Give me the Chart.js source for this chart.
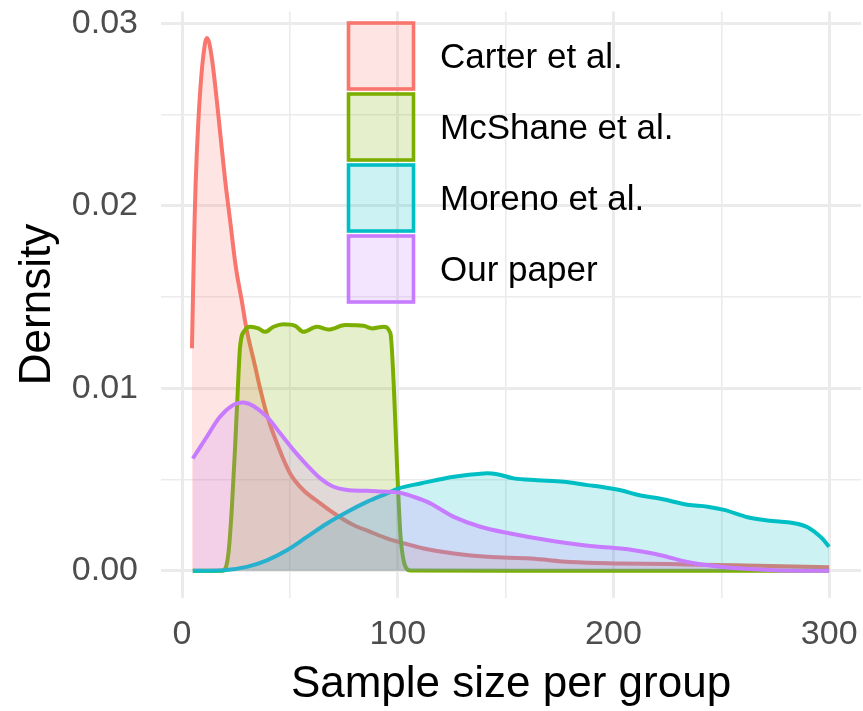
<!DOCTYPE html>
<html lang="en">
<head>
<meta charset="UTF-8">
<title>Sample size densities</title>
<script src="https://cdn.jsdelivr.net/npm/chart.js@4.4.1/dist/chart.umd.min.js"></script>
<style>
  body { margin: 0; background: #fff; }
  #chart { display: block; }
</style>
</head>
<body>
<canvas id="chart" width="863" height="711"></canvas>
<script>
// series names, in the order ggplot draws them
const seriesNames = ['Carter et al.', 'McShane et al.', 'Moreno et al.', 'Our paper'];
const seriesColors = ['#F8766D', '#7CAE00', '#00BFC4', '#C77CFF'];

// density curves (x = sample size, y = density)
const carterX = [4.6, 5.5, 6.3, 7.5, 9, 10.5, 11.5, 12.7, 14.5, 16.9, 20, 22.5, 25, 27.7, 30, 33.9, 36.2, 39.5, 44, 50.1, 56.3, 64.1, 71.8, 79.7, 87.3, 95, 100.4, 112, 126, 141.5, 161.6, 180, 203, 225, 256, 300];
const carterY = [0.0122, 0.0175, 0.0212, 0.0245, 0.0272, 0.0288, 0.0292, 0.0289, 0.0275, 0.0249, 0.0214, 0.0190, 0.0166, 0.0148, 0.0132, 0.0112, 0.0100, 0.0085, 0.0070, 0.00534, 0.00442, 0.0037, 0.00305, 0.0025, 0.00214, 0.00178, 0.00159, 0.00123, 0.00095, 0.00077, 0.00068, 0.00049, 0.00041, 0.00037, 0.00031, 0.0002];

const mcshaneX = [5, 17.6, 19.2, 21.5, 23.1, 24.6, 25.7, 26.9, 29.2, 31.6, 35.4, 38.5, 42.4, 47, 52.5, 56.3, 62.5, 67.9, 75.7, 84.2, 88.1, 93.5, 96.6, 98.1, 99.7, 101.2, 102.7, 105.8, 150, 200, 250, 300];
const mcshaneY = [0, 0, 0.00002, 0.00095, 0.00347, 0.0068, 0.00954, 0.01227, 0.0132, 0.01338, 0.01329, 0.0131, 0.01338, 0.01352, 0.01343, 0.0131, 0.01338, 0.01323, 0.01347, 0.01343, 0.01329, 0.01338, 0.01303, 0.01032, 0.0057, 0.00205, 0.00058, 0.00002, 0, 0, 0, 0];

const morenoX = [5, 19.2, 30, 39.3, 48.6, 57.9, 67.2, 76.5, 85.7, 95, 100.4, 110.5, 126, 139.9, 146.1, 153.8, 164.7, 177, 187.9, 194.1, 203.3, 212.6, 221.9, 234.3, 243.6, 251.3, 262.2, 271.4, 283.8, 290, 296.2, 300];
const morenoY = [0, 0.00003, 0.00022, 0.00058, 0.00113, 0.00186, 0.0026, 0.00323, 0.00378, 0.00424, 0.00452, 0.00479, 0.00516, 0.00534, 0.0053, 0.00507, 0.00497, 0.00488, 0.0047, 0.00461, 0.00442, 0.00413, 0.00395, 0.00362, 0.00352, 0.00334, 0.00294, 0.00276, 0.00261, 0.00239, 0.00184, 0.00132];

const ourX = [5, 11.5, 17.6, 23.8, 28.5, 33.1, 39.3, 45.5, 51.7, 57.9, 64.1, 70.2, 76.5, 85.7, 95, 100.9, 107.4, 115.1, 126, 138.3, 152.2, 167.7, 186.3, 203.3, 209.5, 221.9, 234.3, 246.7, 259.1, 274.5, 300];
const ourY = [0.00616, 0.00735, 0.00845, 0.0091, 0.00923, 0.00904, 0.00845, 0.00754, 0.00662, 0.0058, 0.00507, 0.00461, 0.00443, 0.00439, 0.00434, 0.00428, 0.00406, 0.0037, 0.00296, 0.00242, 0.00205, 0.00172, 0.0014, 0.00122, 0.00113, 0.00086, 0.00049, 0.00027, 0.00013, 0.00004, 0];

// axis ticks (minor ticks carry an empty label)
const xTicks = [0, 50, 100, 150, 200, 250, 300];
const xTickLabels = ['0', '', '100', '', '200', '', '300'];
const yTicks = [0, 0.005, 0.01, 0.015, 0.02, 0.025, 0.03];
const yTickLabels = ['0.00', '', '0.01', '', '0.02', '', '0.03'];

const FONT = '"Liberation Sans", Arial, Helvetica, sans-serif';

function toPoints(xs, ys) {
  return xs.map((x, i) => ({ x: x, y: ys[i] }));
}

function withAlpha(hex, a) {
  const n = parseInt(hex.slice(1), 16);
  return 'rgba(' + (n >> 16) + ',' + ((n >> 8) & 255) + ',' + (n & 255) + ',' + a + ')';
}

const allX = [carterX, mcshaneX, morenoX, ourX];
const allY = [carterY, mcshaneY, morenoY, ourY];

const datasets = seriesNames.map((name, i) => ({
  label: name,
  data: toPoints(allX[i], allY[i]),
  borderColor: seriesColors[i],
  backgroundColor: withAlpha(seriesColors[i], 0.2),
  borderWidth: 4,
  borderJoinStyle: 'round',
  pointRadius: 0,
  // the box-shaped McShane curve keeps monotone splines so it doesn't overshoot
  cubicInterpolationMode: i === 1 ? 'monotone' : 'default',
  tension: 0.35,
  fill: 'origin',
  order: seriesNames.length - i
}));

// legend drawn inside the panel, like ggplot's legend.position inside
const insideLegend = {
  id: 'insideLegend',
  afterDatasetsDraw(chart) {
    const ctx = chart.ctx;
    ctx.save();
    seriesNames.forEach((name, i) => {
      const top = 23 + i * 71;
      ctx.fillStyle = withAlpha(seriesColors[i], 0.2);
      ctx.fillRect(348.5, top, 65, 66);
      ctx.strokeStyle = seriesColors[i];
      ctx.lineWidth = 3.6;
      ctx.strokeRect(348.5, top, 65, 66);
      ctx.fillStyle = '#000';
      ctx.font = '35px ' + FONT;
      ctx.textBaseline = 'middle';
      ctx.textAlign = 'left';
      ctx.fillText(name, 440, top + 35);
    });
    ctx.restore();
  }
};

new Chart(document.getElementById('chart'), {
  type: 'line',
  data: { datasets: datasets },
  plugins: [insideLegend],
  options: {
    responsive: false,
    animation: false,
    devicePixelRatio: 1,
    layout: { padding: { top: 11.5, right: 2, left: 0, bottom: 0 } },
    plugins: {
      legend: { display: false },
      tooltip: { enabled: false },
      filler: { drawTime: 'beforeDatasetDraw' }
    },
    scales: {
      x: {
        type: 'linear',
        min: -9.75,
        max: 314.75,
        afterBuildTicks: s => { s.ticks = xTicks.map(v => ({ value: v })); },
        afterFit: s => {
          s.height = 113.5;
          s.paddingLeft = 0;
          s.paddingRight = 0;
        },
        border: { display: false },
        grid: {
          color: '#EBEBEB',
          lineWidth: c => (xTickLabels[c.index] ? 3 : 1.6),
          drawTicks: false,
          tickLength: 0
        },
        ticks: {
          autoSkip: false,
          maxRotation: 0,
          padding: 17,
          color: '#4D4D4D',
          font: { family: FONT, size: 34 },
          callback: (v, i) => xTickLabels[i]
        },
        title: {
          display: true,
          text: 'Sample size per group',
          color: '#000',
          font: { family: FONT, size: 44 },
          padding: { top: 2.6, bottom: 0 }
        }
      },
      y: {
        type: 'linear',
        min: -0.00146,
        max: 0.03066,
        afterBuildTicks: s => { s.ticks = yTicks.map(v => ({ value: v })); },
        afterFit: s => {
          s.width = 161;
          s.paddingTop = 0;
          s.paddingBottom = 0;
        },
        border: { display: false },
        grid: {
          color: '#EBEBEB',
          lineWidth: c => (yTickLabels[c.index] ? 3 : 1.6),
          drawTicks: false,
          tickLength: 0
        },
        ticks: {
          autoSkip: false,
          padding: 23,
          color: '#4D4D4D',
          font: { family: FONT, size: 34 },
          callback: (v, i) => yTickLabels[i]
        },
        title: {
          display: true,
          text: 'Dernsity',
          color: '#000',
          font: { family: FONT, size: 44 },
          padding: { top: 11, bottom: 0 }
        }
      }
    }
  }
});
</script>
</body>
</html>
